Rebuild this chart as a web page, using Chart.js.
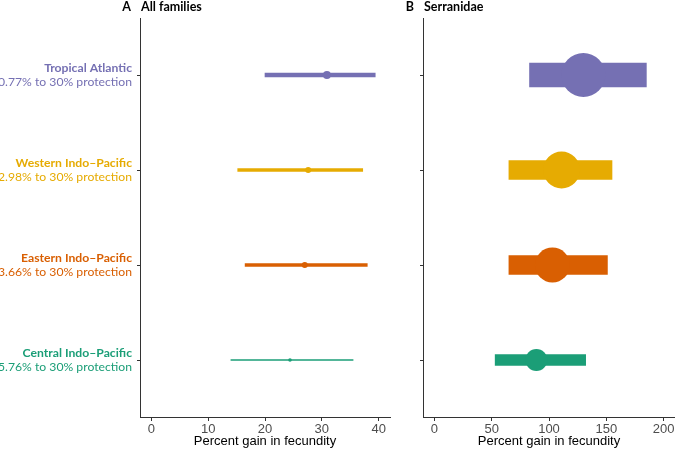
<!DOCTYPE html>
<html>
<head>
<meta charset="utf-8">
<script src="https://cdn.jsdelivr.net/npm/chart.js@4"></script>
<style>
    body { margin: 0; background: #fff; }
    .panel { position: absolute; top: 0; }
</style>
</head>
<body>
<div class="panel" style="left:0"><canvas id="chartA" width="400" height="449"></canvas></div>
<div class="panel" style="left:400px"><canvas id="chartB" width="275" height="449"></canvas></div>
<script>
// regions, top to bottom
const regions = ['Tropical Atlantic', 'Western Indo\u2013Pacific', 'Eastern Indo\u2013Pacific', 'Central Indo\u2013Pacific'];
const protection = ['0.77% to 30% protection', '2.98% to 30% protection', '3.66% to 30% protection', '5.76% to 30% protection'];
const colors = ['#7570b3', '#e6ab02', '#d95f02', '#1b9e77'];

// panel A: all families
const allLow = [20.0, 15.2, 16.5, 14.0];
const allMid = [30.9, 27.6, 27.0, 24.4];
const allHigh = [39.4, 37.2, 38.0, 35.5];
const allTicks = [0, 10, 20, 30, 40];

// panel B: Serranidae
const serLow = [83, 65, 65, 53];
const serMid = [130, 111, 103, 89];
const serHigh = [185, 155, 151, 132];
const serTicks = [0, 50, 100, 150, 200];

const tickFont = { family: 'Liberation Sans, Arial', size: 13 };

// labels on the left + panel titles
const labelPlugin = {
    id: 'labels',
    afterDraw(chart, args, opts) {
        const ctx = chart.ctx;
        const y = chart.scales.y;
        ctx.save();
        ctx.textBaseline = 'middle';
        if (opts.rows) {
            ctx.textAlign = 'right';
            regions.forEach((r, i) => {
                const py = y.getPixelForValue(i + 1);
                ctx.fillStyle = colors[i];
                ctx.font = 'bold 12.2px Lato';
                ctx.fillText(r, y.right - 8, py - 7);
                ctx.font = '12.2px Lato';
                ctx.fillText(protection[i], y.right - 8, py + 7.5);
            });
        }
        ctx.fillStyle = '#000';
        ctx.font = 'bold 12.5px Lato';
        ctx.textAlign = 'right';
        ctx.fillText(opts.letter, chart.chartArea.left - 9, 7);
        ctx.textAlign = 'left';
        ctx.fillText(opts.title, chart.chartArea.left + 1, 7);
        ctx.restore();
    }
};

function makeChart(id, low, mid, high, ticks, xmin, xmax, barW, dotR, yWidth, padRight, letter, title, rows) {
    const datasets = [{
        type: 'scatter',
        data: mid.map((v, i) => ({ x: v, y: i + 1 })),
        pointRadius: dotR,
        pointHoverRadius: dotR,
        pointBackgroundColor: colors,
        pointBorderWidth: 0
    }];
    regions.forEach((r, i) => {
        datasets.push({
            type: 'bar',
            data: [{ x: [low[i], high[i]], y: i + 1 }],
            backgroundColor: colors[i],
            barThickness: barW[i],
            grouped: false
        });
    });

    return new Chart(document.getElementById(id), {
        type: 'bar',
        data: { datasets: datasets },
        options: {
            responsive: false,
            animation: false,
            indexAxis: 'y',
            layout: { autoPadding: false, padding: { top: 18, right: padRight, left: 0, bottom: 0 } },
            plugins: {
                legend: { display: false },
                tooltip: { enabled: false },
                labels: { letter: letter, title: title, rows: rows }
            },
            scales: {
                x: {
                    type: 'linear',
                    min: xmin,
                    max: xmax,
                    afterBuildTicks: s => { s.ticks = ticks.map(v => ({ value: v })); },
                    afterFit: s => { s.height = 32; s.paddingLeft = 0; s.paddingRight = 0; },
                    ticks: { color: '#4d4d4d', font: tickFont, padding: 1, maxRotation: 0 },
                    grid: { drawOnChartArea: false, color: '#333', tickLength: 4 },
                    border: { color: '#333', width: 1 },
                    title: { display: true, text: 'Percent gain in fecundity', color: '#000', font: tickFont, padding: 0 }
                },
                y: {
                    type: 'linear',
                    reverse: true,
                    offset: false,
                    min: 0.4,
                    max: 4.6,
                    afterBuildTicks: s => { s.ticks = [1, 2, 3, 4].map(v => ({ value: v })); },
                    afterFit: s => { s.width = yWidth; s.paddingTop = 0; s.paddingBottom = 0; },
                    ticks: { display: false },
                    grid: { drawOnChartArea: false, offset: false, color: '#333', tickLength: 3 },
                    border: { color: '#333', width: 1 }
                }
            }
        },
        plugins: [labelPlugin]
    });
}

makeChart('chartA', allLow, allMid, allHigh, allTicks, -2, 42, [4, 3, 3, 1], [4, 3, 3, 1.8], 140, 10, 'A', 'All families', true);
makeChart('chartB', serLow, serMid, serHigh, serTicks, -10, 210, [24, 19, 19, 11], [22, 18.5, 17.5, 11], 23, 0, 'B', 'Serranidae', false);
</script>
</body>
</html>
